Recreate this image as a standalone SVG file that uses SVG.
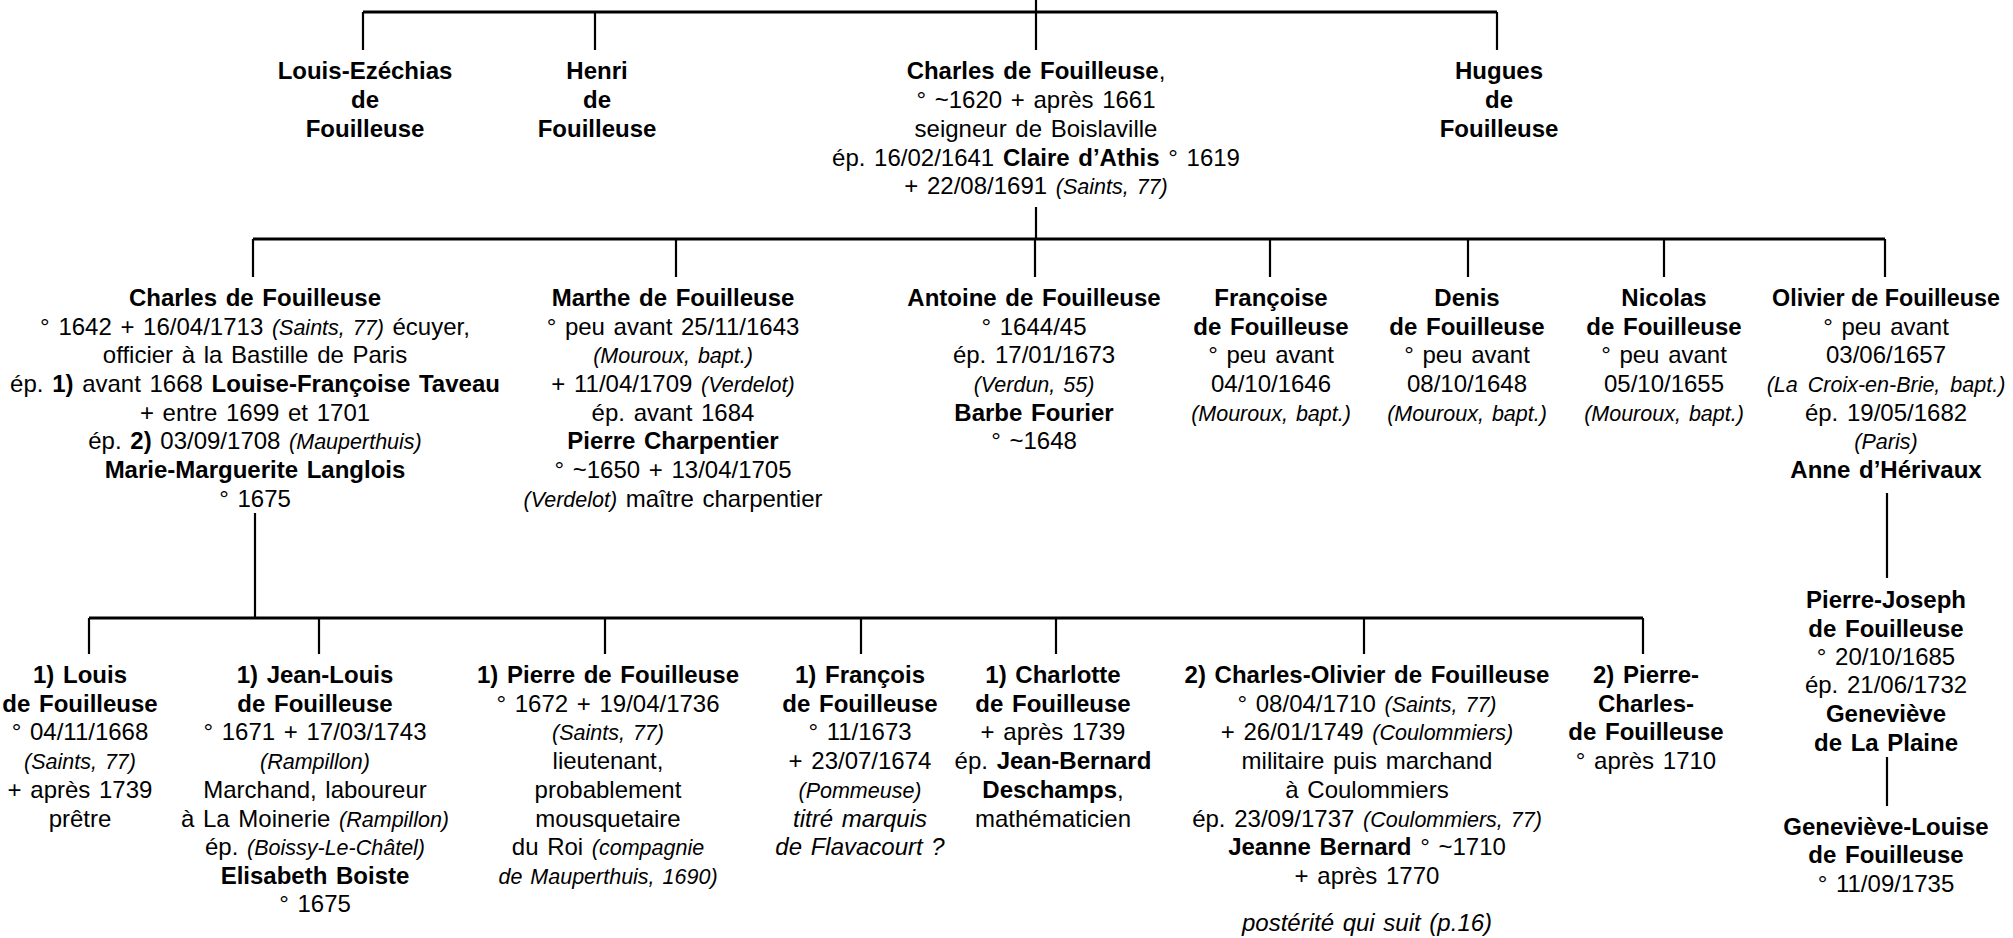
<svg xmlns="http://www.w3.org/2000/svg" width="2013" height="938" viewBox="0 0 2013 938">
<style>
text{font-family:"Liberation Sans",Arial,sans-serif;font-size:24px;text-anchor:middle;fill:#000;word-spacing:2px}
.b{font-weight:bold}
.i{font-style:italic;font-size:21.5px}
.it{font-style:italic}
.h{stroke:#000;stroke-width:3;fill:none}
.v{stroke:#000;stroke-width:2.2;fill:none}
</style>
<rect width="2013" height="938" fill="#fff"/>
<g id="connectors">
<path class="v" d="M1036 0V12"/>
<path class="h" d="M363 12H1497"/>
<path class="v" d="M363 12V50M595 12V50M1036 12V50M1497 12V50"/>
<path class="v" d="M1036 207V239"/>
<path class="h" d="M253 239H1885"/>
<path class="v" d="M253 239V277M676 239V277M1035 239V277M1270 239V277M1468 239V277M1664 239V277M1885 239V277"/>
<path class="v" d="M255 513V618"/>
<path class="h" d="M89 618H1643"/>
<path class="v" d="M89 618V654M319 618V654M605 618V654M861 618V654M1056 618V654M1364 618V654M1643 618V654"/>
<path class="v" d="M1887 493V578"/>
<path class="v" d="M1887 757V806"/>
</g>
<g id="n-louis-ezechias">
<text class="b" x="365" y="79">Louis-Ezéchias</text>
<text class="b" x="365" y="108">de</text>
<text class="b" x="365" y="137">Fouilleuse</text>
</g>
<g id="n-henri">
<text class="b" x="597" y="79">Henri</text>
<text class="b" x="597" y="108">de</text>
<text class="b" x="597" y="137">Fouilleuse</text>
</g>
<g id="n-charles-1620">
<text x="1036" y="79"><tspan class="b">Charles de Fouilleuse</tspan>,</text>
<text x="1036" y="108">° ~1620 + après 1661</text>
<text x="1036" y="137">seigneur de Boislaville</text>
<text x="1036" y="166">ép. 16/02/1641 <tspan class="b">Claire d’Athis</tspan> ° 1619</text>
<text x="1036" y="194">+ 22/08/1691 <tspan class="i">(Saints, 77)</tspan></text>
</g>
<g id="n-hugues">
<text class="b" x="1499" y="79">Hugues</text>
<text class="b" x="1499" y="108">de</text>
<text class="b" x="1499" y="137">Fouilleuse</text>
</g>
<g id="n-charles-1642">
<text class="b" x="255" y="306">Charles de Fouilleuse</text>
<text x="255" y="335">° 1642 + 16/04/1713 <tspan class="i">(Saints, 77)</tspan> écuyer,</text>
<text x="255" y="363">officier à la Bastille de Paris</text>
<text x="255" y="392">ép. <tspan class="b">1)</tspan> avant 1668 <tspan class="b">Louise-Françoise Taveau</tspan></text>
<text x="255" y="421">+ entre 1699 et 1701</text>
<text x="255" y="449">ép. <tspan class="b">2)</tspan> 03/09/1708 <tspan class="i">(Mauperthuis)</tspan></text>
<text class="b" x="255" y="478">Marie-Marguerite Langlois</text>
<text x="255" y="507">° 1675</text>
</g>
<g id="n-marthe">
<text class="b" x="673" y="306">Marthe de Fouilleuse</text>
<text x="673" y="335">° peu avant 25/11/1643</text>
<text class="i" x="673" y="363">(Mouroux, bapt.)</text>
<text x="673" y="392">+ 11/04/1709 <tspan class="i">(Verdelot)</tspan></text>
<text x="673" y="421">ép. avant 1684</text>
<text class="b" x="673" y="449">Pierre Charpentier</text>
<text x="673" y="478">° ~1650 + 13/04/1705</text>
<text x="673" y="507"><tspan class="i">(Verdelot)</tspan> maître charpentier</text>
</g>
<g id="n-antoine">
<text class="b" x="1034" y="306">Antoine de Fouilleuse</text>
<text x="1034" y="335">° 1644/45</text>
<text x="1034" y="363">ép. 17/01/1673</text>
<text class="i" x="1034" y="392">(Verdun, 55)</text>
<text class="b" x="1034" y="421">Barbe Fourier</text>
<text x="1034" y="449">° ~1648</text>
</g>
<g id="n-francoise">
<text class="b" x="1271" y="306">Françoise</text>
<text class="b" x="1271" y="335">de Fouilleuse</text>
<text x="1271" y="363">° peu avant</text>
<text x="1271" y="392">04/10/1646</text>
<text class="i" x="1271" y="421">(Mouroux, bapt.)</text>
</g>
<g id="n-denis">
<text class="b" x="1467" y="306">Denis</text>
<text class="b" x="1467" y="335">de Fouilleuse</text>
<text x="1467" y="363">° peu avant</text>
<text x="1467" y="392">08/10/1648</text>
<text class="i" x="1467" y="421">(Mouroux, bapt.)</text>
</g>
<g id="n-nicolas">
<text class="b" x="1664" y="306">Nicolas</text>
<text class="b" x="1664" y="335">de Fouilleuse</text>
<text x="1664" y="363">° peu avant</text>
<text x="1664" y="392">05/10/1655</text>
<text class="i" x="1664" y="421">(Mouroux, bapt.)</text>
</g>
<g id="n-olivier">
<text class="b" x="1886" y="306" style="font-size:23.3px;word-spacing:0">Olivier de Fouilleuse</text>
<text x="1886" y="335">° peu avant</text>
<text x="1886" y="363">03/06/1657</text>
<text class="i" x="1886" y="392" style="word-spacing:4px">(La Croix-en-Brie, bapt.)</text>
<text x="1886" y="421">ép. 19/05/1682</text>
<text class="i" x="1886" y="449">(Paris)</text>
<text class="b" x="1886" y="478">Anne d’Hérivaux</text>
</g>
<g id="n-louis">
<text class="b" x="80" y="683">1) Louis</text>
<text class="b" x="80" y="712">de Fouilleuse</text>
<text x="80" y="740">° 04/11/1668</text>
<text class="i" x="80" y="769">(Saints, 77)</text>
<text x="80" y="798">+ après 1739</text>
<text x="80" y="827">prêtre</text>
</g>
<g id="n-jean-louis">
<text class="b" x="315" y="683">1) Jean-Louis</text>
<text class="b" x="315" y="712">de Fouilleuse</text>
<text x="315" y="740">° 1671 + 17/03/1743</text>
<text class="i" x="315" y="769">(Rampillon)</text>
<text x="315" y="798">Marchand, laboureur</text>
<text x="315" y="827">à La Moinerie <tspan class="i">(Rampillon)</tspan></text>
<text x="315" y="855">ép. <tspan class="i">(Boissy-Le-Châtel)</tspan></text>
<text class="b" x="315" y="884">Elisabeth Boiste</text>
<text x="315" y="912">° 1675</text>
</g>
<g id="n-pierre">
<text class="b" x="608" y="683">1) Pierre de Fouilleuse</text>
<text x="608" y="712">° 1672 + 19/04/1736</text>
<text class="i" x="608" y="740">(Saints, 77)</text>
<text x="608" y="769">lieutenant,</text>
<text x="608" y="798">probablement</text>
<text x="608" y="827">mousquetaire</text>
<text x="608" y="855">du Roi <tspan class="i">(compagnie</tspan></text>
<text class="i" x="608" y="884">de Mauperthuis, 1690)</text>
</g>
<g id="n-francois">
<text class="b" x="860" y="683">1) François</text>
<text class="b" x="860" y="712">de Fouilleuse</text>
<text x="860" y="740">° 11/1673</text>
<text x="860" y="769">+ 23/07/1674</text>
<text class="i" x="860" y="798">(Pommeuse)</text>
<text class="it" x="860" y="827">titré marquis</text>
<text class="it" x="860" y="855">de Flavacourt ?</text>
</g>
<g id="n-charlotte">
<text class="b" x="1053" y="683">1) Charlotte</text>
<text class="b" x="1053" y="712">de Fouilleuse</text>
<text x="1053" y="740">+ après 1739</text>
<text x="1053" y="769">ép. <tspan class="b">Jean-Bernard</tspan></text>
<text x="1053" y="798"><tspan class="b">Deschamps</tspan>,</text>
<text x="1053" y="827">mathématicien</text>
</g>
<g id="n-charles-olivier">
<text class="b" x="1367" y="683">2) Charles-Olivier de Fouilleuse</text>
<text x="1367" y="712">° 08/04/1710 <tspan class="i">(Saints, 77)</tspan></text>
<text x="1367" y="740">+ 26/01/1749 <tspan class="i">(Coulommiers)</tspan></text>
<text x="1367" y="769">militaire puis marchand</text>
<text x="1367" y="798">à Coulommiers</text>
<text x="1367" y="827">ép. 23/09/1737 <tspan class="i">(Coulommiers, 77)</tspan></text>
<text x="1367" y="855"><tspan class="b">Jeanne Bernard</tspan> ° ~1710</text>
<text x="1367" y="884">+ après 1770</text>
<text class="it" x="1367" y="931">postérité qui suit (p.16)</text>
</g>
<g id="n-pierre-charles">
<text class="b" x="1646" y="683">2) Pierre-</text>
<text class="b" x="1646" y="712">Charles-</text>
<text class="b" x="1646" y="740">de Fouilleuse</text>
<text x="1646" y="769">° après 1710</text>
</g>
<g id="n-pierre-joseph">
<text class="b" x="1886" y="608">Pierre-Joseph</text>
<text class="b" x="1886" y="637">de Fouilleuse</text>
<text x="1886" y="665">° 20/10/1685</text>
<text x="1886" y="693">ép. 21/06/1732</text>
<text class="b" x="1886" y="722">Geneviève</text>
<text class="b" x="1886" y="751">de La Plaine</text>
</g>
<g id="n-genevieve-louise">
<text class="b" x="1886" y="835">Geneviève-Louise</text>
<text class="b" x="1886" y="863">de Fouilleuse</text>
<text x="1886" y="892">° 11/09/1735</text>
</g>
</svg>
